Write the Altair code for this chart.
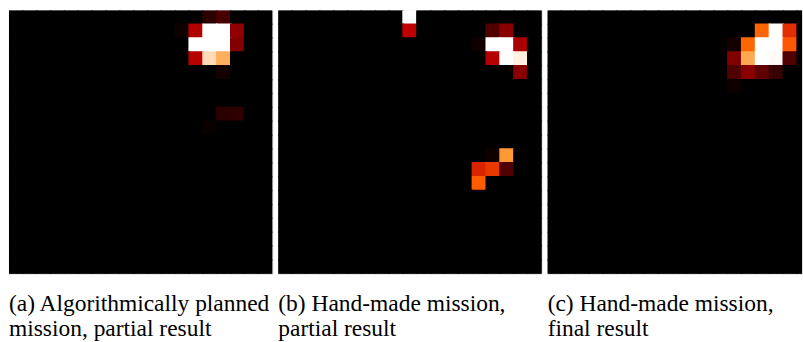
import altair as alt
import pandas as pd

GRID = 19  # cells per side

# Non-zero cells of each coverage map: row (from top), column, normalised intensity
a_rows = [0, 0, 1, 1, 1, 1, 1, 2, 2, 2, 2, 3, 3, 3, 4, 7, 7, 8]
a_cols = [14, 15, 12, 13, 14, 15, 16, 13, 14, 15, 16, 13, 14, 15, 15, 15, 16, 14]
a_vals = [0.11, 0.19, 0.04, 0.46, 1.0, 1.0, 0.38, 1.0, 1.0, 1.0, 0.34,
          0.48, 0.93, 0.84, 0.055, 0.11, 0.12, 0.03]

b_rows = [0, 1, 1, 1, 2, 2, 2, 2, 3, 3, 3, 4, 10, 10, 11, 11, 11, 12]
b_cols = [9, 9, 15, 16, 14, 15, 16, 17, 15, 16, 17, 17, 15, 16, 14, 15, 16, 14]
b_vals = [1.0, 0.50, 0.21, 0.36, 0.04, 1.0, 1.0, 0.44, 0.47, 1.0, 0.97,
          0.355, 0.04, 0.80, 0.57, 0.61, 0.21, 0.68]

c_rows = [1, 1, 1, 2, 2, 2, 2, 2, 3, 3, 3, 3, 3, 4, 4, 4, 4, 5]
c_cols = [15, 16, 17, 13, 14, 15, 16, 17, 13, 14, 15, 16, 17, 13, 14, 15, 16, 13]
c_vals = [0.70, 1.0, 0.59, 0.05, 0.70, 1.0, 1.0, 0.67, 0.335, 0.83, 1.0,
          0.99, 0.21, 0.21, 0.36, 0.25, 0.15, 0.04]

captions = [
    ["(a) Algorithmically planned", "mission, partial result"],
    ["(b) Hand-made mission,", "partial result"],
    ["(c) Hand-made mission,", "final result"],
]

CAPTION_FONT = "Times New Roman"

# gist_heat colormap as piecewise-linear stops
heat_domain = [0.0, 0.5, 2 / 3, 0.75, 1.0]
heat_range = ["#000000", "#bf0000", "#ff5500", "#ff8000", "#ffffff"]
heat = alt.Scale(domain=heat_domain, range=heat_range, interpolate="rgb", clamp=True)


def grid_frame(rows, cols, vals):
    cells = {(r, c): v for r, c, v in zip(rows, cols, vals)}
    recs = []
    for r in range(GRID):
        for c in range(GRID):
            recs.append({"row": r, "row2": r + 1, "col": c, "col2": c + 1,
                         "v": cells.get((r, c), 0.0)})
    return pd.DataFrame(recs)


def panel(df, caption, width, xmax):
    return (
        alt.Chart(df)
        .mark_rect(clip=True, strokeWidth=1.5)
        .encode(
            x=alt.X("col:Q", axis=None, scale=alt.Scale(domain=[0, xmax], nice=False, zero=False)),
            x2="col2:Q",
            y=alt.Y("row:Q", axis=None, scale=alt.Scale(domain=[0, GRID], nice=False, reverse=True)),
            y2="row2:Q",
            color=alt.Color("v:Q", legend=None, scale=heat),
            stroke=alt.Stroke("v:Q", legend=None, scale=heat),
        )
        .properties(
            width=width,
            height=264,
            title=alt.TitleParams(
                text=caption, orient="bottom", anchor="start",
                font=CAPTION_FONT, fontSize=23.5, fontWeight="normal",
                color="black", lineHeight=25, offset=18,
            ),
        )
    )


p1 = panel(grid_frame(a_rows, a_cols, a_vals), captions[0], 264, GRID)
p2 = panel(grid_frame(b_rows, b_cols, b_vals), captions[1], 264, GRID)
# the third map runs off the right edge of the figure
p3 = panel(grid_frame(c_rows, c_cols, c_vals), captions[2], 255, GRID * 255 / 264)

chart = (
    alt.hconcat(p1, p2, p3, spacing=6, bounds="flush")
    .properties(padding={"left": 8, "top": 9, "right": 0, "bottom": 0})
    .configure_view(stroke=None, fill="black")
    .configure(background="white")
)

chart.save("out.html", embed_options={"renderer": "svg", "actions": False})
